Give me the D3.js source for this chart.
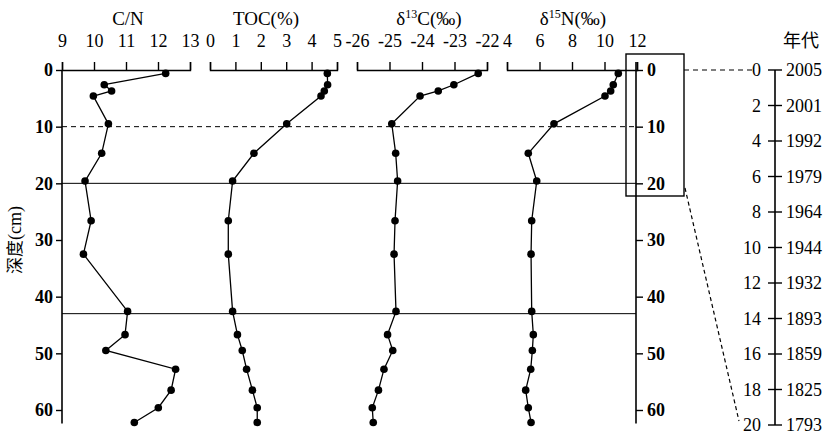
<!DOCTYPE html>
<html><head><meta charset="utf-8">
<script src="https://cdn.jsdelivr.net/npm/d3@7"></script>
<style>
body{margin:0;background:#fff}
svg{display:block}
</style>
</head><body>
<svg id="c" width="828" height="437" style="font-family:'Liberation Serif','DejaVu Serif',serif"></svg>
<script>
// ---- data ----
const depthCm    = [0.6, 2.6, 3.7, 4.6, 9.5, 14.7, 19.6, 26.6, 32.5, 42.6, 46.7, 49.5, 52.8, 56.5, 59.6, 62.2];
const cnValues   = [12.24, 10.32, 10.55, 9.98, 10.45, 10.24, 9.72, 9.91, 9.67, 11.05, 10.97, 10.37, 12.55, 12.41, 12.01, 11.26];
const tocValues  = [4.62, 4.63, 4.50, 4.37, 3.02, 1.73, 0.89, 0.72, 0.72, 0.89, 1.08, 1.27, 1.44, 1.67, 1.86, 1.86];
const d13cValues = [-22.27, -23.02, -23.50, -24.06, -24.93, -24.81, -24.75, -24.83, -24.86, -24.80, -25.06, -24.90, -25.17, -25.34, -25.53, -25.50];
const d15nValues = [10.85, 10.54, 10.38, 10.03, 6.89, 5.31, 5.83, 5.52, 5.48, 5.52, 5.62, 5.56, 5.46, 5.15, 5.31, 5.48];

const cnTicks   = [9, 10, 11, 12, 13];
const tocTicks  = [0, 1, 2, 3, 4, 5];
const d13cTicks = [-26, -25, -24, -23, -22];
const d15nTicks = [4, 6, 8, 10, 12];
const depthTicks = [0, 10, 20, 30, 40, 50, 60];

const ageDepthTicks = [0, 2, 4, 6, 8, 10, 12, 14, 16, 18, 20];
const ageYears      = [2005, 2001, 1992, 1979, 1964, 1944, 1932, 1893, 1859, 1825, 1793];

const dashedDepths = [10];
const solidDepths  = [20, 43];

// ---- layout ----
const SERIF = "'Liberation Serif','DejaVu Serif',serif";
const CJK = "'Noto Sans CJK SC',sans-serif";
const svg = d3.select("#c");
const y = d3.scaleLinear([0, 60], [70, 410]);
const leftX = 62, rightX = 636;
const bottomDepth = 62.4;

const panels = [
  {title: [["C/N"]], values: cnValues, ticks: cnTicks, x: d3.scaleLinear([9, 13], [62, 190]), tx: 128},
  {title: [["TOC(%)"]], values: tocValues, ticks: tocTicks, x: d3.scaleLinear([0, 5], [210, 337]), tx: 266},
  {title: [["δ"], ["13", true], ["C(‰)"]], values: d13cValues, ticks: d13cTicks, x: d3.scaleLinear([-26, -22], [357, 487]), tx: 429},
  {title: [["δ"], ["15", true], ["N(‰)"]], values: d15nValues, ticks: d15nTicks, x: d3.scaleLinear([4, 12], [507, 637]), tx: 573}
];

function styleAxis(g, size, weight) {
  g.attr("font-family", null).attr("font-size", null);
  g.selectAll("text").style("font-family", SERIF).style("font-size", size + "px").style("font-weight", weight || "normal").attr("fill", "#000");
  g.selectAll("path,line").attr("stroke", "#000").attr("stroke-width", 1.4);
}

// reference lines
dashedDepths.forEach(d => {
  svg.append("line").attr("x1", leftX).attr("x2", rightX).attr("y1", y(d)).attr("y2", y(d))
    .attr("stroke", "#000").attr("stroke-width", 1).attr("stroke-dasharray", "5,4");
});
solidDepths.forEach(d => {
  svg.append("line").attr("x1", leftX).attr("x2", rightX).attr("y1", y(d)).attr("y2", y(d))
    .attr("stroke", "#000").attr("stroke-width", 1);
});

// panels
panels.forEach(p => {
  const ax = svg.append("g").attr("transform", `translate(0,${y(0)})`)
    .call(d3.axisTop(p.x).tickValues(p.ticks).tickSize(8).tickSizeOuter(8).tickPadding(15).tickFormat(d => String(d)));
  styleAxis(ax, 18);
  ax.select(".domain").attr("fill", "none");

  const t = svg.append("text").attr("x", p.tx).attr("y", 25).attr("text-anchor", "middle")
    .style("font-family", SERIF).style("font-size", "19px");
  p.title.forEach(([s, sup], i) => {
    const ts = t.append("tspan").text(s);
    if (sup) ts.attr("dy", -7).style("font-size", "12px");
    else if (i > 0 && p.title[i - 1][1]) ts.attr("dy", 7);
  });

  const line = d3.line().x((v) => p.x(v)).y((v, i) => y(depthCm[i]));
  svg.append("path").datum(p.values).attr("d", line)
    .attr("fill", "none").attr("stroke", "#000").attr("stroke-width", 1.3);
  svg.append("g").selectAll("circle").data(p.values).join("circle")
    .attr("cx", v => p.x(v)).attr("cy", (v, i) => y(depthCm[i])).attr("r", 3.8).attr("fill", "#000");
});

// left depth axis
const la = svg.append("g").attr("transform", `translate(${leftX},0)`)
  .call(d3.axisLeft(y).tickValues(depthTicks).tickSize(6).tickPadding(3));
la.select(".domain").remove();
styleAxis(la, 18, "bold");
svg.append("line").attr("x1", leftX).attr("x2", leftX).attr("y1", y(0)).attr("y2", y(bottomDepth))
  .attr("stroke", "#000").attr("stroke-width", 1.6);

// right depth axis
const ra = svg.append("g").attr("transform", `translate(${rightX},0)`)
  .call(d3.axisRight(y).tickValues(depthTicks).tickSize(7).tickPadding(4));
ra.select(".domain").remove();
styleAxis(ra, 18, "bold");
svg.append("line").attr("x1", rightX).attr("x2", rightX).attr("y1", 62).attr("y2", y(bottomDepth))
  .attr("stroke", "#000").attr("stroke-width", 1.6);

// y title
const yt = svg.append("text").attr("transform", "translate(21,240) rotate(-90)").attr("text-anchor", "middle")
  .style("font-family", SERIF).style("font-size", "18px");
yt.append("tspan").text("深度").style("font-family", CJK).style("font-size", "17px");
yt.append("tspan").text("(cm)");

// zoom box
svg.append("rect").attr("x", 626).attr("y", 54).attr("width", 58).attr("height", 142)
  .attr("fill", "none").attr("stroke", "#000").attr("stroke-width", 1.4);

// age axis
const ageX = 775;
const ageY = d3.scaleLinear([0, 20], [70, 425]);
svg.append("line").attr("x1", ageX).attr("x2", ageX).attr("y1", ageY(0)).attr("y2", ageY(20))
  .attr("stroke", "#000").attr("stroke-width", 1.6);
const ag = svg.append("g");
ageDepthTicks.forEach((d, i) => {
  ag.append("line").attr("x1", ageX - 7).attr("x2", ageX + 7).attr("y1", ageY(d)).attr("y2", ageY(d))
    .attr("stroke", "#000").attr("stroke-width", 1.4);
  ag.append("text").attr("x", ageX - 14).attr("y", ageY(d)).attr("dy", "0.35em").attr("text-anchor", "end")
    .style("font-family", SERIF).style("font-size", "18px").text(d);
  ag.append("text").attr("x", ageX + 11).attr("y", ageY(d)).attr("dy", "0.35em").attr("text-anchor", "start")
    .style("font-family", SERIF).style("font-size", "18px").text(ageYears[i]);
});
svg.append("text").attr("x", 801).attr("y", 47).attr("text-anchor", "middle")
  .style("font-family", CJK).style("font-size", "18px").text("年代");

// connectors
svg.append("line").attr("x1", 684).attr("x2", 754).attr("y1", y(0)).attr("y2", ageY(0))
  .attr("stroke", "#000").attr("stroke-width", 1.2).attr("stroke-dasharray", "5,4");
svg.append("line").attr("x1", 685).attr("x2", 739).attr("y1", 188).attr("y2", ageY(20) - 4)
  .attr("stroke", "#000").attr("stroke-width", 1.2).attr("stroke-dasharray", "4,3");
</script>
</body></html>
